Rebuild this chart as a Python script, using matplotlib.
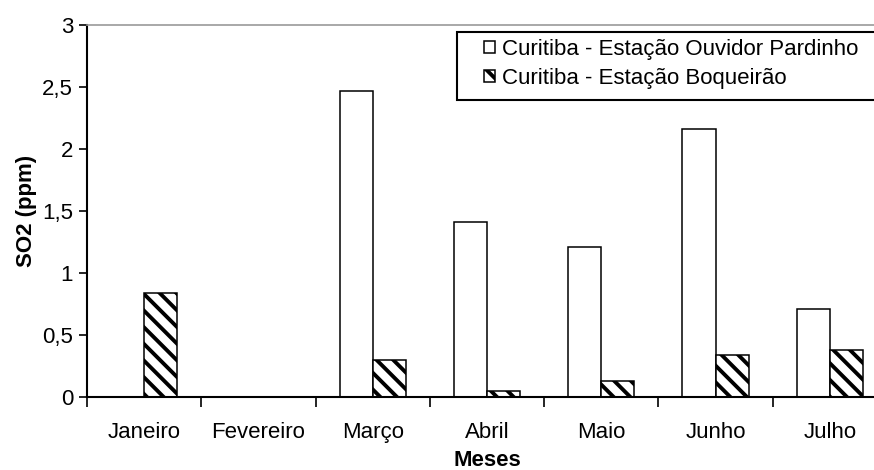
import matplotlib.pyplot as plt
from matplotlib.patches import Rectangle
import numpy as np

plt.rcParams['font.family'] = ['Liberation Sans', 'DejaVu Sans']
plt.rcParams['hatch.linewidth'] = 2.8

meses = ['Janeiro', 'Fevereiro', 'Março', 'Abril', 'Maio', 'Junho', 'Julho']
ouvidor = [0, 0, 2.47, 1.41, 1.21, 2.16, 0.71]
boqueirao = [0.84, 0, 0.30, 0.05, 0.13, 0.34, 0.38]

fig = plt.figure(figsize=(8.74, 4.70), dpi=100)
ax = fig.add_axes([87/874, 1-397/470, 800/874, 372/470])

x = np.arange(len(meses))
w = 0.29
ax.bar(x - w/2, ouvidor, w, color='white', edgecolor='black', linewidth=1.1,
       label='Curitiba - Estação Ouvidor Pardinho')
ax.bar(x + w/2, boqueirao, w, color='white', edgecolor='black', linewidth=1.1,
       hatch='\\\\', label='Curitiba - Estação Boqueirão')

ax.set_xlim(-0.5, len(meses) - 0.5)
ax.set_ylim(0, 3)
ax.set_yticks([0, 0.5, 1, 1.5, 2, 2.5, 3])
ax.set_yticklabels(['0', '0,5', '1', '1,5', '2', '2,5', '3'], fontsize=16)
ax.set_xticks(x)
ax.set_xticklabels(meses, fontsize=16)
ax.set_xticks(np.arange(-0.5, len(meses)), minor=True)
ax.tick_params(axis='x', which='major', length=0, pad=18)
ax.tick_params(axis='x', which='minor', length=7, width=1.2, direction='out')
ax.tick_params(axis='y', length=6, width=1.2, direction='out', pad=4)

for s in ['left', 'bottom']:
    ax.spines[s].set_linewidth(1.5)
    ax.spines[s].set_color('black')
ax.spines['top'].set_color('#999999')
ax.spines['top'].set_linewidth(1.2)
ax.spines['right'].set_visible(False)

ax.set_xlabel('Meses', fontsize=16, fontweight='bold', labelpad=5)
ax.set_ylabel('SO2 (ppm)', fontsize=16, fontweight='bold', labelpad=4)

# legend box drawn separately so the inner padding matches
fig.patches.append(Rectangle((457/874, 1-100/470), 430/874, 68/470,
                             transform=fig.transFigure, facecolor='white',
                             edgecolor='black', linewidth=1.5, zorder=5))
leg = fig.legend(loc='upper left', bbox_to_anchor=(484/874, 1-39/470),
                 fontsize=16, frameon=False,
                 handlelength=0.5, handleheight=0.5, handletextpad=0.3,
                 borderpad=0, labelspacing=0.35, borderaxespad=0)
leg.set_zorder(6)

plt.savefig('out.png', dpi=100)
